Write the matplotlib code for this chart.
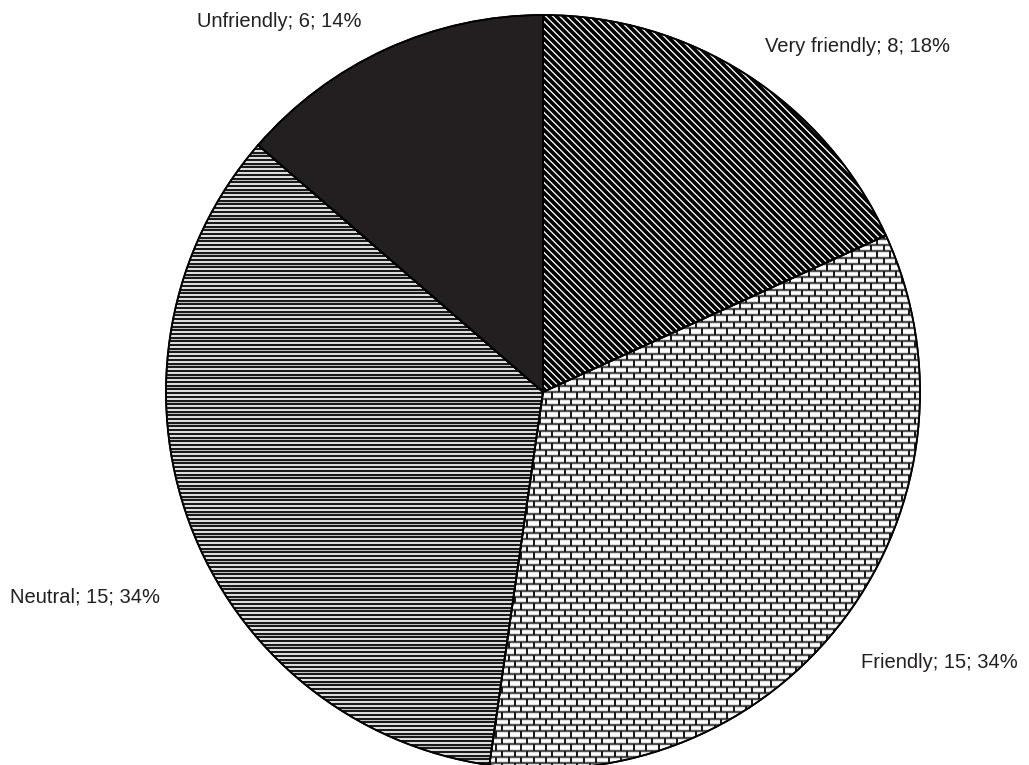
import numpy as np
import matplotlib
matplotlib.use('Agg')
import matplotlib.pyplot as plt
from matplotlib.collections import LineCollection
from matplotlib.patches import PathPatch

plt.rcParams['font.family'] = ['Liberation Sans Narrow', 'Liberation Sans', 'DejaVu Sans']

categories = ['Very friendly', 'Friendly', 'Neutral', 'Unfriendly']
counts = [8, 15, 15, 6]
percents = [18, 34, 34, 14]

W, H = 1029, 765
fig = plt.figure(figsize=(W / 100, H / 100), dpi=100)
ax = fig.add_axes([0, 0, 1, 1])

# work in pixel-like units, y pointing up
CX, CY, R = 543, H - 392, 377
wedges, _ = ax.pie(counts, startangle=90, counterclock=False,
                   center=(CX, CY), radius=R,
                   colors=['white', 'white', 'white', '#231f20'],
                   wedgeprops=dict(edgecolor='black', linewidth=1.2))
ax.set_xlim(0, W)
ax.set_ylim(0, H)
ax.set_aspect('equal')
ax.axis('off')

PX = 0.72  # one pixel in points


def clipped(segs, wedge, color, lw):
    lc = LineCollection(segs, colors=color, linewidths=lw * PX, zorder=3)
    ax.add_collection(lc)
    lc.set_clip_path(wedge)


x0, x1 = CX - R - 20, CX + R + 20
y0, y1 = CY - R - 20, CY + R + 20

# very friendly: dense back-diagonal stripes
step = 7.0
segs = []
for c in np.arange(x0 - (y1 - y0), x1 + (y1 - y0), step):
    segs.append([(c, y1), (c + (y1 - y0), y0)])
clipped(segs, wedges[0], 'black', 3.6)

# friendly: brick texture
row_h, brick_w = 6.4, 12.5
hsegs, vsegs = [], []
for i, y in enumerate(np.arange(y0, y1, row_h)):
    hsegs.append([(x0, y), (x1, y)])
    off = 0 if i % 2 == 0 else brick_w / 2
    for x in np.arange(x0 + off, x1, brick_w):
        vsegs.append([(x, y), (x, y + row_h)])
clipped(hsegs, wedges[1], '#555555', 2.4)
clipped(vsegs, wedges[1], '#1a1a1a', 2.0)

# neutral: tight horizontal lines
segs = [[(x0, y), (x1, y)] for y in np.arange(y0, y1, 3.7)]
clipped(segs, wedges[2], '#1a1a1a', 2.3)

# redraw outlines on top of the textures
for w in wedges:
    outline = PathPatch(w.get_path().transformed(w.get_patch_transform()),
                        fill=False, edgecolor='black', linewidth=1.3, zorder=4)
    ax.add_patch(outline)

labels = [f'{c}; {n}; {p}%' for c, n, p in zip(categories, counts, percents)]
label_pos = [(765, H - 46, 'left'), (861, H - 663, 'left'),
             (10, H - 597, 'left'), (197, H - 21, 'left')]
for text, (lx, ly, ha) in zip(labels, label_pos):
    ax.text(lx, ly, text, ha=ha, va='center', fontsize=14.5, color='#231f20')

fig.savefig('out.png', dpi=100)
